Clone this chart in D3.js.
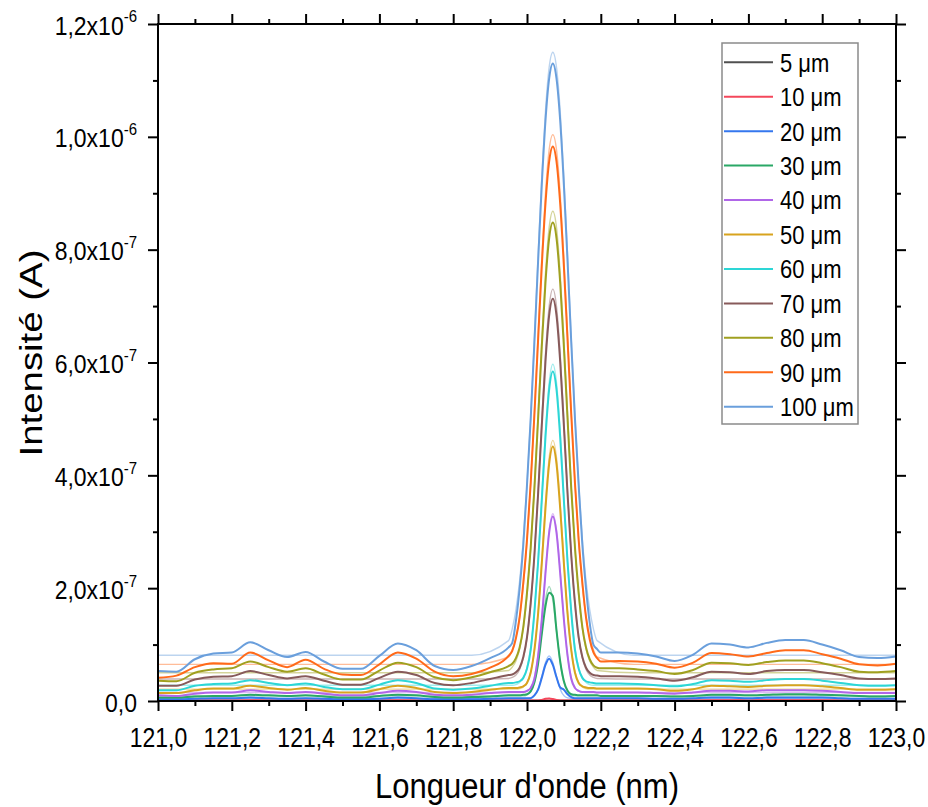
<!DOCTYPE html>
<html><head><meta charset="utf-8">
<script src="https://cdn.jsdelivr.net/npm/d3@7"></script>
<style>
body{margin:0;background:#fff;}
svg{display:block;}
text{font-family:"Liberation Sans",Arial,sans-serif;fill:#000;}
</style>
</head><body>
<svg id="chart" width="928" height="807"></svg>
<script>
// ---------- DATA (intensity in units of 1e-7 A) ----------
const seriesLabels = ["5 μm","10 μm","20 μm","30 μm","40 μm","50 μm","60 μm","70 μm","80 μm","90 μm","100 μm"];
const seriesColors = ["#505050","#f4475b","#3577ee","#2aa866","#b066e8","#d8a31e","#2dd6d6","#875a5a","#a0a020","#ff6a1a","#6a9fdc"];

const wavelength = [
 121.00,121.05,121.10,121.15,121.20,121.25,121.30,121.35,121.40,121.45,121.50,121.55,121.60,121.65,121.70,121.75,121.80,121.85,121.90,
 121.95,121.96,121.97,121.98,121.99,122.00,122.01,122.02,122.03,122.04,122.05,122.06,122.07,122.08,122.09,122.10,122.11,122.12,122.13,122.14,122.15,122.16,122.17,122.18,122.19,
 122.20,122.25,122.30,122.35,122.40,122.45,122.50,122.55,122.60,122.65,122.70,122.75,122.80,122.85,122.90,122.95,123.00];

const intensity5 = [
 .002,.002,.003,.003,.003,.004,.003,.003,.003,.003,.002,.002,.003,.004,.003,.002,.002,.002,.003,
 .003,.003,.003,.003,.003,.003,.003,.003,.003,.003,.004,.005,.004,.003,.003,.003,.003,.003,.003,.003,.003,.003,.003,.003,.003,
 .003,.003,.003,.003,.002,.003,.004,.004,.003,.004,.004,.004,.004,.003,.003,.003,.003];
const intensity10 = [
 .006,.006,.009,.010,.010,.012,.011,.009,.010,.008,.007,.007,.010,.012,.011,.007,.007,.007,.009,
 .011,.011,.011,.011,.011,.011,.011,.011,.011,.020,.038,.045,.035,.018,.011,.011,.011,.011,.011,.011,.011,.011,.011,.011,.011,
 .010,.010,.010,.009,.009,.010,.012,.012,.011,.012,.013,.013,.012,.011,.009,.009,.010];
const intensity20 = [
 .03,.03,.04,.05,.05,.06,.05,.04,.05,.04,.03,.03,.04,.06,.05,.03,.03,.03,.04,
 .05,.05,.05,.05,.05,.05,.05,.10,.20,.41,.64,.75,.64,.42,.24,.20,.12,.07,.05,.05,.05,.05,.05,.05,.05,
 .05,.05,.05,.04,.04,.05,.06,.06,.05,.06,.06,.06,.06,.05,.04,.04,.04];
const intensity30 = [
 .06,.06,.08,.09,.09,.11,.10,.09,.10,.08,.06,.06,.09,.11,.10,.07,.06,.07,.08,
 .10,.10,.10,.10,.11,.12,.17,.33,.66,1.18,1.68,1.92,1.86,1.25,.70,.35,.18,.12,.11,.10,.10,.10,.10,.10,.10,
 .09,.09,.09,.09,.08,.09,.11,.11,.10,.11,.12,.12,.11,.10,.09,.08,.09];
const intensity40 = [
 .10,.09,.13,.15,.15,.19,.16,.14,.16,.13,.10,.10,.14,.18,.16,.11,.10,.11,.14,
 .16,.16,.16,.16,.16,.18,.23,.39,.80,1.44,2.26,2.98,3.27,2.98,2.26,1.44,.80,.39,.23,.18,.16,.16,.16,.16,.15,
 .15,.15,.15,.14,.13,.15,.18,.18,.17,.19,.19,.19,.18,.16,.14,.14,.14];
const intensity50 = [
 .14,.14,.19,.22,.22,.27,.23,.20,.23,.18,.15,.15,.21,.27,.23,.16,.14,.16,.20,
 .23,.23,.23,.24,.26,.32,.50,.90,1.54,2.43,3.41,4.20,4.51,4.20,3.41,2.43,1.54,.90,.50,.32,.26,.24,.23,.23,.22,
 .22,.22,.22,.21,.18,.21,.27,.26,.25,.27,.28,.28,.26,.23,.20,.20,.21];
const intensity60 = [
 .19,.19,.27,.30,.31,.37,.32,.28,.31,.25,.21,.21,.29,.37,.32,.22,.20,.22,.27,
 .32,.32,.33,.35,.41,.57,.90,1.57,2.45,3.55,4.67,5.52,5.84,5.52,4.67,3.55,2.45,1.57,.90,.57,.41,.35,.33,.32,.31,
 .31,.31,.30,.28,.26,.30,.37,.36,.34,.37,.39,.39,.36,.32,.28,.27,.28];
const intensity70 = [
 .27,.27,.38,.43,.44,.53,.46,.40,.44,.36,.29,.29,.41,.52,.46,.32,.28,.32,.39,
 .46,.47,.51,.59,.78,1.13,1.74,2.58,3.66,4.87,6.01,6.83,7.13,6.83,6.01,4.87,3.66,2.58,1.74,1.13,.78,.59,.50,.46,.45,
 .44,.44,.43,.40,.36,.42,.52,.51,.48,.53,.55,.55,.51,.46,.40,.39,.40];
const intensity80 = [
 .36,.35,.50,.56,.58,.70,.60,.52,.58,.47,.38,.38,.54,.68,.60,.42,.37,.42,.51,
 .62,.66,.76,.95,1.31,1.92,2.72,3.76,4.99,6.27,7.41,8.20,8.48,8.20,7.41,6.27,4.99,3.76,2.72,1.92,1.31,.95,.74,.63,.59,
 .58,.58,.56,.53,.48,.55,.68,.67,.64,.69,.72,.72,.67,.60,.52,.51,.53];
const intensity90 = [
 .41,.45,.60,.67,.66,.86,.72,.60,.73,.57,.47,.46,.65,.86,.75,.52,.44,.48,.59,
 .80,.89,1.11,1.48,2.10,2.86,3.86,5.07,6.39,7.70,8.81,9.56,9.83,9.56,8.81,7.70,6.39,5.07,3.86,2.86,2.10,1.48,1.09,.86,.76,
 .70,.71,.70,.66,.59,.68,.85,.83,.79,.85,.90,.90,.83,.75,.65,.63,.66];
const intensity100 = [
 .53,.52,.74,.84,.86,1.04,.90,.78,.87,.70,.57,.57,.80,1.02,.90,.62,.55,.62,.76,
 .95,1.03,1.42,1.99,2.77,3.83,5.00,6.35,7.78,9.14,10.28,11.03,11.30,11.03,10.28,9.14,7.78,6.35,5.00,3.83,2.77,1.99,1.38,1.00,.92,
 .86,.86,.84,.79,.71,.82,1.02,1.00,.95,1.03,1.08,1.08,1.00,.90,.78,.76,.79];

// fitted (light) curves
const fitWavelength = [121.00,121.85,
 121.95,121.96,121.97,121.98,121.99,122.00,122.01,122.02,122.03,122.04,122.05,122.06,122.07,122.08,122.09,122.10,122.11,122.12,122.13,122.14,122.15,122.16,122.17,122.18,122.19,
 122.29,123.00];
const fit5 = [.003,.003, .003,.003,.003,.003,.003,.003,.003,.003,.003,.003,.003,.004,.003,.003,.003,.003,.003,.003,.003,.003,.003,.003,.003,.003,.003, .003,.003];
const fit10 = [.012,.012, .012,.012,.012,.012,.012,.012,.012,.012,.012,.020,.035,.045,.035,.020,.012,.012,.012,.012,.012,.012,.012,.012,.012,.012,.012, .012,.012];
const fit20 = [.045,.045, .045,.045,.045,.045,.045,.047,.056,.095,.21,.43,.68,.80,.68,.43,.21,.095,.056,.047,.045,.045,.045,.045,.045,.045,.045, .045,.045];
const fit30 = [.09,.09, .09,.09,.09,.09,.09,.11,.17,.33,.69,1.24,1.79,2.03,1.79,1.24,.69,.33,.17,.11,.09,.09,.09,.09,.09,.09,.09, .09,.09];
const fit40 = [.15,.15, .15,.15,.15,.15,.16,.17,.24,.42,.80,1.45,2.29,3.02,3.32,3.02,2.29,1.45,.80,.42,.24,.17,.16,.15,.15,.15,.15, .15,.15];
const fit50 = [.21,.21, .21,.21,.21,.22,.25,.33,.52,.90,1.56,2.48,3.49,4.31,4.62,4.31,3.49,2.48,1.56,.90,.52,.33,.25,.22,.21,.21,.21, .21,.21];
const fit60 = [.28,.28, .28,.28,.29,.33,.41,.59,.95,1.57,2.48,3.61,4.77,5.64,5.97,5.64,4.77,3.61,2.48,1.57,.95,.59,.41,.33,.29,.28,.28, .28,.28];
const fit70 = [.39,.39, .40,.42,.46,.56,.76,1.12,1.71,2.58,3.70,4.96,6.14,6.99,7.30,6.99,6.14,4.96,3.70,2.58,1.71,1.12,.76,.56,.46,.42,.40, .39,.39];
const fit80 = [.50,.50, .54,.60,.71,.92,1.29,1.87,2.70,3.78,5.06,6.39,7.57,8.39,8.68,8.39,7.57,6.39,5.06,3.78,2.70,1.87,1.29,.92,.71,.60,.54, .50,.50];
const fit90 = [.65,.65, .78,.91,1.13,1.49,2.05,2.84,3.87,5.11,6.48,7.83,8.99,9.77,10.04,9.77,8.99,7.83,6.48,5.11,3.87,2.84,2.05,1.49,1.13,.91,.78, .65,.65];
const fit100 = [.81,.81, 1.07,1.28,1.62,2.13,2.86,3.83,5.03,6.41,7.88,9.28,10.45,11.23,11.50,11.23,10.45,9.28,7.88,6.41,5.03,3.83,2.86,2.13,1.62,1.28,1.07, .81,.81];

// ticks
const xTickValues = [121.0,121.2,121.4,121.6,121.8,122.0,122.2,122.4,122.6,122.8,123.0];
const xTickLabels = ["121,0","121,2","121,4","121,6","121,8","122,0","122,2","122,4","122,6","122,8","123,0"];
const xMinorTicks = [121.1,121.3,121.5,121.7,121.9,122.1,122.3,122.5,122.7,122.9];
const yTickValues = [0,2,4,6,8,10,12];
const yTickMantissa = ["0,0","2,0","4,0","6,0","8,0","1,0","1,2"];
const yTickExponent = ["","-7","-7","-7","-7","-6","-6"];
const yMinorTicks = [1,3,5,7,9,11];

const measured = [intensity5,intensity10,intensity20,intensity30,intensity40,intensity50,intensity60,intensity70,intensity80,intensity90,intensity100];
const fits = [fit5,fit10,fit20,fit30,fit40,fit50,fit60,fit70,fit80,fit90,fit100];

// ---------- CHART ----------
const svg = d3.select("#chart");
const L = 158, R = 896, T = 24, B = 701;
const x = d3.scaleLinear().domain([121, 123]).range([L, R]);
const y = d3.scaleLinear().domain([0, 12]).range([B, T]);
const FONT = '"Liberation Sans",Arial,sans-serif';

// fitted curves (light)
const fitLine = d3.line().x((d,i)=>x(fitWavelength[i])).y(d=>y(d)).curve(d3.curveMonotoneX);
svg.append("g").selectAll("path").data(fits).join("path")
  .attr("d", d=>fitLine(d)).attr("fill","none")
  .attr("stroke",(d,i)=>seriesColors[i]).attr("stroke-width",1.4).attr("stroke-opacity",0.45);

// measured curves
const line = d3.line().x((d,i)=>x(wavelength[i])).y(d=>y(d)).curve(d3.curveMonotoneX);
svg.append("g").selectAll("path").data(measured).join("path")
  .attr("d", d=>line(d)).attr("fill","none")
  .attr("stroke",(d,i)=>seriesColors[i]).attr("stroke-width",2).attr("stroke-linejoin","round");

// frame
svg.append("rect").attr("x",L).attr("y",T).attr("width",R-L).attr("height",B-T)
  .attr("fill","none").attr("stroke","#000").attr("stroke-width",2);

function styleAxis(g){
  g.select(".domain").remove();
  g.selectAll("line").attr("stroke","#000").attr("stroke-width",2);
}
// bottom
const gb = svg.append("g").attr("transform",`translate(0,${B})`)
  .call(d3.axisBottom(x).tickValues(xTickValues).tickSize(10).tickSizeOuter(0).tickFormat((d,i)=>xTickLabels[i]))
  .attr("font-family",FONT).attr("font-size",23).call(styleAxis);
gb.selectAll("text").attr("y",null).attr("dy",null).attr("fill","#000")
  .attr("transform","translate(0,46) scale(1,1.18)");
svg.append("g").attr("transform",`translate(0,${B})`)
  .call(d3.axisBottom(x).tickValues(xMinorTicks).tickSize(5).tickSizeOuter(0).tickFormat("")).call(styleAxis);
// top
svg.append("g").attr("transform",`translate(0,${T})`)
  .call(d3.axisTop(x).tickValues(xTickValues).tickSize(10).tickSizeOuter(0).tickFormat("")).call(styleAxis);
svg.append("g").attr("transform",`translate(0,${T})`)
  .call(d3.axisTop(x).tickValues(xMinorTicks).tickSize(5).tickSizeOuter(0).tickFormat("")).call(styleAxis);
// left
const gl = svg.append("g").attr("transform",`translate(${L},0)`)
  .call(d3.axisLeft(y).tickValues(yTickValues).tickSize(10).tickSizeOuter(0).tickFormat(""))
  .attr("font-family",FONT).call(styleAxis);
gl.selectAll(".tick").each(function(d,i){
  const t = d3.select(this).append("text").attr("text-anchor","end").attr("font-size",23)
    .attr("fill","#000").attr("transform","translate(-21,10) scale(1,1.1)");
  if (yTickExponent[i]) {
    t.append("tspan").text(yTickMantissa[i] + "x10");
    t.append("tspan").attr("font-size",15).attr("dy",-11).text(yTickExponent[i]);
  } else {
    t.text(yTickMantissa[i]);
  }
});
svg.append("g").attr("transform",`translate(${L},0)`)
  .call(d3.axisLeft(y).tickValues(yMinorTicks).tickSize(5).tickSizeOuter(0).tickFormat("")).call(styleAxis);
// right
svg.append("g").attr("transform",`translate(${R},0)`)
  .call(d3.axisRight(y).tickValues(yTickValues).tickSize(10).tickSizeOuter(0).tickFormat("")).call(styleAxis);
svg.append("g").attr("transform",`translate(${R},0)`)
  .call(d3.axisRight(y).tickValues(yMinorTicks).tickSize(5).tickSizeOuter(0).tickFormat("")).call(styleAxis);

// axis titles
svg.append("text").attr("text-anchor","middle").attr("font-size",31)
  .attr("transform",`translate(${(L+R)/2},798) scale(1,1.15)`).text("Longueur d'onde (nm)");
svg.append("text").attr("text-anchor","middle").attr("font-size",32)
  .attr("transform","translate(42,353) scale(1,1.2) rotate(-90)").text("Intensité (A)");

// legend
const lg = svg.append("g");
lg.append("rect").attr("x",722).attr("y",43).attr("width",136).attr("height",381)
  .attr("fill","#fff").attr("stroke","#8a8a8a").attr("stroke-width",1.5);
seriesLabels.forEach((lab,i)=>{
  const yy = 62.3 + i*34.44;
  lg.append("line").attr("x1",724).attr("x2",773).attr("y1",yy).attr("y2",yy)
    .attr("stroke",seriesColors[i]).attr("stroke-width",2);
  lg.append("text").attr("font-size",22).attr("transform",`translate(780,${yy+9.4}) scale(1,1.15)`).text(lab);
});
</script>
</body></html>
